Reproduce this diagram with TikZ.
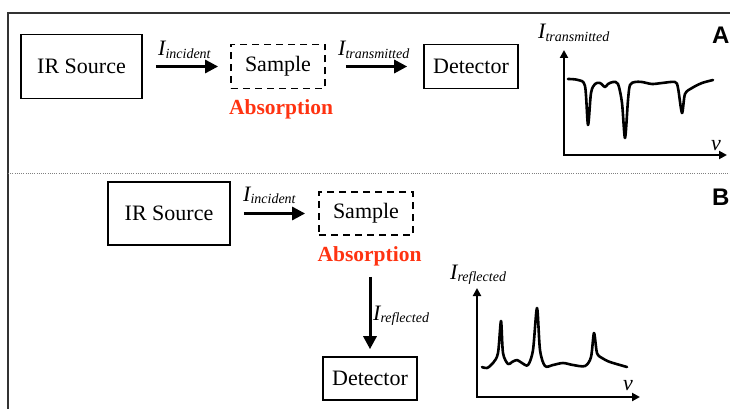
\documentclass[tikz,border=0pt]{standalone}
\usepackage{fontspec}
\setmainfont{Liberation Serif}
\newfontfamily\labfont{Liberation Sans}
\usetikzlibrary{arrows.meta,calc}
\definecolor{absred}{RGB}{255,51,17}
\newcommand\Isub[1]{{\fontsize{22}{24}\selectfont\itshape I}\raisebox{-2.5pt}{\fontsize{14}{16}\selectfont\itshape #1}}
\tikzset{
 box/.style={draw, line width=1.6pt, inner sep=0pt, font=\fontsize{22}{24}\selectfont},
 dbox/.style={box, line width=1.8pt, dash pattern=on 7pt off 5pt},
 arr/.style={line width=3pt, -{Triangle[length=13pt,width=13pt]}},
 axis/.style={line width=2.5pt, {Triangle[length=8pt,width=8pt]}-{Triangle[length=8pt,width=8pt]}},
 curve/.style={line width=2.6pt, line join=round, line cap=round},
 absl/.style={text=absred, font=\fontsize{21.5}{24}\selectfont\bfseries, inner sep=0pt},
 lab/.style={inner sep=0pt, anchor=base west},
 nu/.style={inner sep=0pt, anchor=base, font=\fontsize{22}{24}\selectfont\itshape},
 panel/.style={inner sep=0pt, anchor=base west, font=\labfont\fontsize{24}{26}\selectfont\bfseries},
}
\begin{document}
\begin{tikzpicture}[x=1pt,y=-1pt]
\useasboundingbox (0,0) rectangle (730,409);
% frame
\draw[line width=2pt, black!80] (8,409) -- (8,13) -- (730,13);
\draw[gray, line width=0.9pt, dash pattern=on 1pt off 1.2pt] (8,173) -- (730,173);

% ---- panel A ----
\node[box, minimum width=121pt, minimum height=64pt] (srcA) at (81.5,66.5) {IR Source};
\node[dbox, minimum width=94pt, minimum height=44pt] (smpA) at (278,66.5) {Sample};
\node[box, minimum width=94pt, minimum height=44pt] (detA) at (471,66.5) {Detector};
\node[absl, anchor=base] (absA) at (281,114) {Absorption};
\draw[arr, shorten <=13pt, shorten >=12pt] (srcA.east) -- (smpA.west);
\draw[arr, shorten <=20pt, shorten >=16pt] (smpA.east) -- (detA.west);
\node[lab] (liA) at (158,56) {\Isub{incident}};
\node[lab] (ltA) at (338,56) {\Isub{transmitted}};
\node[panel] (pA) at (712,44) {A};
% graph A
\draw[axis] (564,50) -- (564,155) -- (727,155);
\node[lab] (gA) at (538,39) {\Isub{transmitted}};
\node[nu] (nuA) at (716,150) {ν};
\draw[curve] plot[smooth, tension=0.5] coordinates {
 (568,79) (578,80) (585,86) (588,125) (591,93) (595,84) (600,83) (605,87)
 (608,84) (613,82) (618,84) (622,103) (625,138) (628,100) (630,85) (635,82)
 (642,82) (652,84) (662,83) (675,82) (678,88) (682,113) (685,94) (692,88)
 (702,83) (713,80)};

% ---- panel B ----
\node[box, minimum width=122pt, minimum height=63pt] (srcB) at (169,213.5) {IR Source};
\node[dbox, minimum width=94pt, minimum height=43pt] (smpB) at (366,213.5) {Sample};
\node[box, minimum width=94pt, minimum height=43pt] (detB) at (370,378.5) {Detector};
\node[absl, anchor=base] (absB) at (369.5,261) {Absorption};
\draw[arr, shorten <=13pt, shorten >=13pt] (srcB.east) -- (smpB.west);
\draw[arr, shorten <=41pt, shorten >=7pt] (smpB.south -| detB.north) -- (detB.north);
\node[lab] (liB) at (243,201) {\Isub{incident}};
\node[lab] (lrB) at (373,320) {\Isub{reflected}};
\node[panel] (pB) at (712,205) {B};
% graph B
\draw[axis] (477,288) -- (477,397) -- (640,397);
\node[lab] (gB) at (450,279) {\Isub{reflected}};
\node[nu] (nuB) at (628,390) {ν};
\draw[curve] plot[smooth, tension=0.5] coordinates {
 (482,367) (487,368) (493,363) (498,353) (501,321) (503,353) (508,364)
 (512,362) (517,360) (522,363) (528,365) (533,350) (537,308) (540,350)
 (545,366) (553,365) (563,363) (573,365) (585,366) (591,357) (594,333)
 (597,353) (602,358) (610,362) (627,367)};
\end{tikzpicture}
\end{document}
